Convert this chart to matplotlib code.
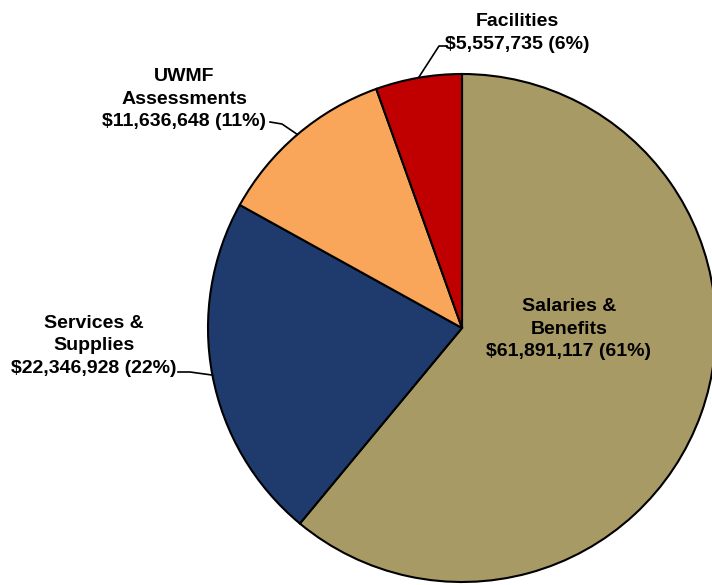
import matplotlib
matplotlib.use("Agg")
import matplotlib.pyplot as plt
import numpy as np

categories = ["Salaries &\nBenefits", "Services &\nSupplies", "UWMF\nAssessments", "Facilities"]
values = [61891117, 22346928, 11636648, 5557735]
percents = [61, 22, 11, 6]
colors = ["#A89A64", "#1F3B6E", "#F9A65A", "#C00000"]

plt.rcParams['font.family'] = ['Liberation Sans', 'DejaVu Sans']

W, H = 712, 585
fig = plt.figure(figsize=(W / 100, H / 100), dpi=100)
ax = fig.add_axes([0, 0, 1, 1])
ax.set_xlim(0, W)
ax.set_ylim(0, H)
ax.set_aspect('equal')
ax.axis('off')

cx, cy, R = 462, H - 328, 254
wedges, _ = ax.pie(values, colors=colors, startangle=90, counterclock=False,
                   center=(cx, cy), radius=R,
                   wedgeprops=dict(edgecolor='black', linewidth=1.5))
ax.set_xlim(0, W)
ax.set_ylim(0, H)

labels = [f"{c}\n${v:,} ({p}%)" for c, v, p in zip(categories, values, percents)]

# label layout: (text center x, center y in px-from-top), leader elbow and end points
layout = [
    dict(pos=(569, 329), leader=None),
    dict(pos=(94, 346), leader=[(190, 372), (178, 372)]),
    dict(pos=(184, 99), leader=[(282, 124), (270, 122)]),
    dict(pos=(517, 33), leader=[(439, 46), (446, 46)]),
]

for w, lab, lay in zip(wedges, labels, layout):
    tx, ty = lay['pos']
    ax.text(tx, H - ty, lab, ha='center', va='center', fontsize=14,
            fontweight='bold', linespacing=1.42, color='black')
    if lay['leader']:
        ang = np.deg2rad((w.theta1 + w.theta2) / 2)
        ex, ey = cx + R * np.cos(ang), cy + R * np.sin(ang)
        pts = [(ex, ey)] + [(x, H - y) for x, y in lay['leader']]
        xs, ys = zip(*pts)
        ax.plot(xs, ys, color='black', linewidth=1.2)

fig.savefig("out.png", dpi=100, facecolor='white')
